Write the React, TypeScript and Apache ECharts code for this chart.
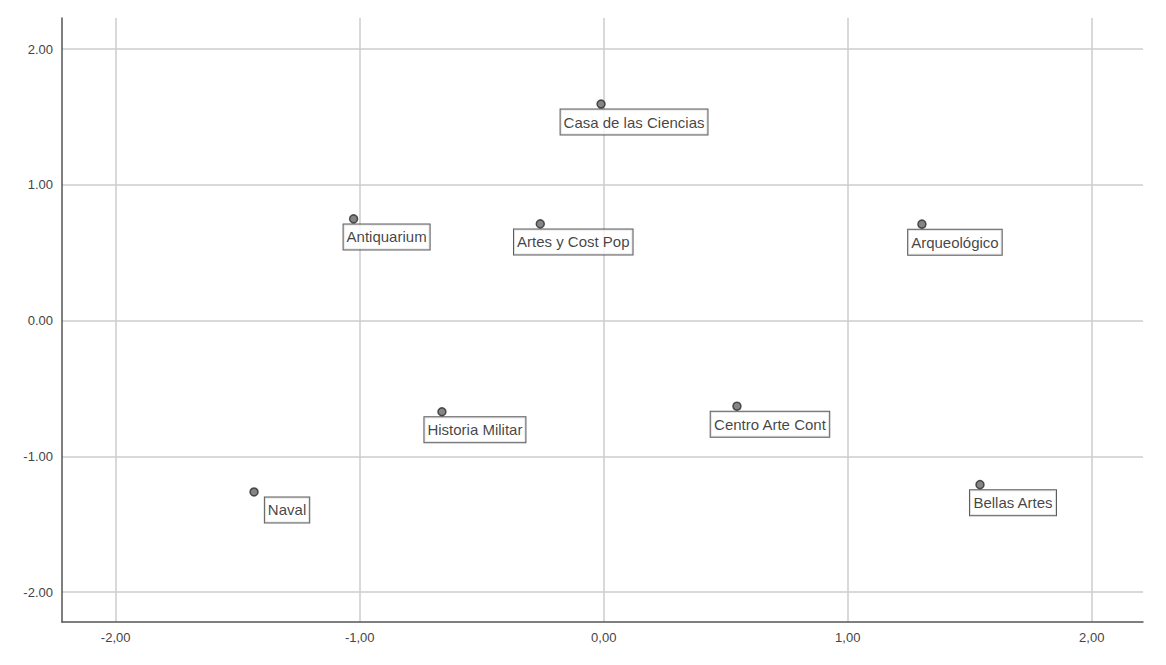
import React, { useEffect, useRef } from "react";
import * as echarts from "echarts";

const names = [
  "Casa de las Ciencias",
  "Antiquarium",
  "Artes y Cost Pop",
  "Arqueológico",
  "Historia Militar",
  "Centro Arte Cont",
  "Naval",
  "Bellas Artes",
];
const xValues = [-0.011, -1.025, -0.26, 1.304, -0.663, 0.546, -1.433, 1.542];
const yValues = [1.596, 0.75, 0.713, 0.711, -0.671, -0.63, -1.262, -1.208];

const FONT = "'Liberation Sans', Arial, sans-serif";

export default function App() {
  const ref = useRef<HTMLDivElement>(null);
  useEffect(() => {
    if (!ref.current) return;
    const chart = echarts.init(ref.current, null, { renderer: "svg" });
    const data = names.map((n, i) => ({ name: n, value: [xValues[i], yValues[i]] }));
    chart.setOption({
      animation: false,
      backgroundColor: "#fff",
      grid: { left: 62, right: 23, top: 18, bottom: 43 },
      xAxis: {
        type: "value",
        min: -2.22,
        max: 2.21,
        minInterval: 1,
        maxInterval: 1,
        axisLine: { onZero: false, lineStyle: { color: "#555", width: 1.5 } },
        axisTick: { show: false },
        axisLabel: {
          showMinLabel: false,
          showMaxLabel: false,
          margin: 9,
          color: "#444",
          fontSize: 13,
          fontFamily: FONT,
          formatter: (v: number) => v.toFixed(2).replace(".", ","),
        },
        splitLine: {
          show: true,
          showMinLine: false,
          showMaxLine: false,
          lineStyle: { color: "#cccccc", width: 1.5 },
        },
      },
      yAxis: {
        type: "value",
        min: -2.22,
        max: 2.23,
        minInterval: 1,
        maxInterval: 1,
        axisLine: { show: true, onZero: false, lineStyle: { color: "#555", width: 1.5 } },
        axisTick: { show: false },
        axisLabel: {
          showMinLabel: false,
          showMaxLabel: false,
          margin: 9,
          color: "#444",
          fontSize: 13,
          fontFamily: FONT,
          formatter: (v: number) => v.toFixed(2),
        },
        splitLine: {
          show: true,
          showMinLine: false,
          showMaxLine: false,
          lineStyle: { color: "#cccccc", width: 1.5 },
        },
      },
      series: [
        {
          type: "scatter",
          data,
          symbol: "circle",
          symbolSize: 8,
          itemStyle: { color: "#666", borderColor: "#2a2a2a", borderWidth: 1.5 },
          label: {
            show: true,
            position: "inside",
            offset: [33, 18],
            formatter: (p: any) => p.name,
            color: "#111",
            fontSize: 15,
            fontFamily: FONT,
            backgroundColor: "#fff",
            borderColor: "#333",
            borderWidth: 1,
            padding: [5, 3],
          },
          z: 3,
        },
      ],
    });
    return () => chart.dispose();
  }, []);
  return (
    <div
      ref={ref}
      style={{ position: "absolute", left: 0, top: 0, width: 1166, height: 665 }}
    />
  );
}
